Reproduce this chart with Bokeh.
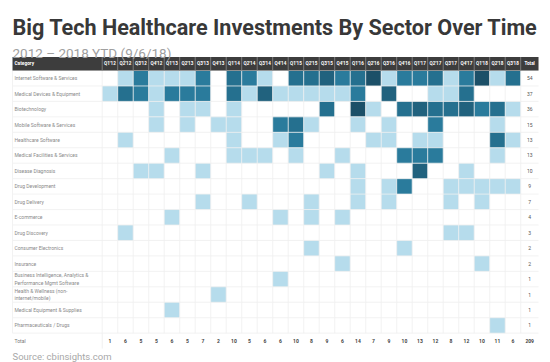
from bokeh.plotting import figure
from bokeh.models import ColumnDataSource, Range1d, Label
from bokeh.core.properties import value
from bokeh.embed import file_html
from bokeh.resources import INLINE

quarters = ["Q1'12", "Q2'12", "Q3'12", "Q4'12", "Q1'13", "Q2'13", "Q3'13", "Q4'13",
            "Q1'14", "Q2'14", "Q3'14", "Q4'14", "Q1'15", "Q2'15", "Q3'15", "Q4'15",
            "Q1'16", "Q2'16", "Q3'16", "Q4'16", "Q1'17", "Q2'17", "Q3'17", "Q4'17",
            "Q1'18", "Q2'18", "Q3'18"]

categories = ["Internet Software & Services", "Medical Devices & Equipment", "Biotechnology",
              "Mobile Software & Services", "Healthcare Software", "Medical Facilities & Services",
              "Disease Diagnosis", "Drug Development", "Drug Delivery", "E-commerce",
              "Drug Discovery", "Consumer Electronics", "Insurance",
              "Business Intelligence, Analytics &\nPerformance Mgmt Software",
              "Health & Wellness (non-\ninternet/mobile)", "Medical Equipment & Supplies",
              "Pharmaceuticals / Drugs"]

internet_software = [0, 1, 2, 1, 1, 1, 2, 0, 3, 2, 1, 0, 3, 3, 4, 2, 3, 5, 1, 2, 2, 3, 1, 2, 5, 1, 3]
medical_devices   = [1, 3, 2, 1, 2, 2, 2, 0, 3, 1, 4, 1, 1, 1, 1, 1, 2, 0, 4, 0, 0, 1, 1, 3, 0, 0, 0]
biotechnology     = [0, 0, 0, 1, 0, 1, 1, 0, 1, 0, 0, 0, 0, 0, 3, 0, 5, 1, 0, 3, 4, 3, 3, 4, 2, 3, 1]
mobile_software   = [0, 0, 0, 1, 0, 1, 0, 1, 1, 0, 0, 2, 3, 1, 0, 0, 1, 0, 1, 0, 0, 2, 0, 0, 0, 1, 0]
healthcare_sw     = [0, 1, 0, 0, 0, 0, 0, 0, 1, 0, 0, 1, 2, 0, 0, 0, 0, 1, 1, 0, 1, 1, 0, 0, 0, 3, 1]
medical_facility  = [0, 0, 0, 0, 1, 0, 0, 0, 1, 1, 1, 0, 1, 0, 0, 1, 0, 0, 0, 2, 2, 2, 0, 0, 0, 1, 0]
disease_diagnosis = [0, 0, 1, 1, 0, 0, 1, 0, 0, 0, 0, 0, 0, 0, 1, 0, 1, 0, 0, 0, 4, 0, 0, 1, 0, 0, 0]
drug_development  = [0, 0, 0, 0, 0, 0, 0, 0, 0, 0, 0, 0, 0, 0, 0, 0, 1, 0, 1, 2, 0, 0, 1, 1, 1, 1, 1]
drug_delivery     = [0, 0, 0, 0, 0, 0, 1, 0, 0, 1, 0, 0, 0, 1, 0, 0, 1, 0, 1, 0, 0, 0, 1, 0, 1, 0, 0]
e_commerce        = [0, 0, 0, 0, 1, 0, 0, 0, 0, 0, 0, 1, 0, 1, 0, 1, 0, 0, 0, 0, 0, 0, 0, 0, 0, 0, 0]
drug_discovery    = [0, 1, 0, 0, 0, 0, 0, 0, 0, 0, 0, 0, 0, 0, 0, 0, 0, 0, 0, 0, 0, 0, 1, 1, 0, 0, 0]
consumer_elec     = [0, 0, 0, 0, 0, 0, 0, 0, 0, 0, 0, 0, 0, 1, 0, 0, 0, 0, 0, 1, 0, 0, 0, 0, 0, 0, 0]
insurance         = [0, 0, 0, 0, 0, 0, 0, 0, 0, 0, 0, 0, 0, 0, 0, 1, 0, 0, 0, 0, 0, 0, 0, 0, 1, 0, 0]
business_intel    = [0, 0, 0, 0, 0, 0, 0, 0, 0, 0, 0, 1, 0, 0, 0, 0, 0, 0, 0, 0, 0, 0, 0, 0, 0, 0, 0]
health_wellness   = [0, 0, 0, 0, 0, 0, 0, 1, 0, 0, 0, 0, 0, 0, 0, 0, 0, 0, 0, 0, 0, 0, 0, 0, 0, 0, 0]
medical_supplies  = [0, 0, 0, 0, 1, 0, 0, 0, 0, 0, 0, 0, 0, 0, 0, 0, 0, 0, 0, 0, 0, 0, 0, 0, 0, 0, 0]
pharmaceuticals   = [0, 0, 0, 0, 0, 0, 0, 0, 0, 0, 0, 0, 0, 0, 0, 0, 0, 0, 0, 0, 0, 0, 0, 0, 0, 1, 0]

rows = [internet_software, medical_devices, biotechnology, mobile_software, healthcare_sw,
        medical_facility, disease_diagnosis, drug_development, drug_delivery, e_commerce,
        drug_discovery, consumer_elec, insurance, business_intel, health_wellness,
        medical_supplies, pharmaceuticals]

title_text = "Big Tech Healthcare Investments By Sector Over Time"
subtitle_text = "2012 \u2013 2018 YTD (9/6/18)"
source_text = "Source: cbinsights.com"

# colour by count
palette = {1: "#b6dcec", 2: "#2a7b9c", 3: "#25708f", 4: "#21627e", 5: "#1c5068"}

# ---------- layout (column units / row units) ----------
W, H = 550, 362
col_px, row_px = 15.5, 15.45
x0 = -6.561
y_top = -4.531
x_range = Range1d(x0, x0 + W / col_px)
y_range = Range1d(y_top + H / row_px, y_top)  # flipped: rows go downward

table_left = -5.787
nq = len(quarters)
total_x = nq + 0.58
table_right = 28.15
header_top = -0.874
label_x = -5.66

p = figure(width=W, height=H, x_range=x_range, y_range=y_range,
           output_backend="svg", toolbar_location=None,
           x_axis_location=None, y_axis_location=None, min_border=0)
p.grid.visible = False
p.outline_line_color = None
p.background_fill_color = "white"
p.border_fill_color = "white"

FONT = "Roboto"

# cells
cx, cy, cc = [], [], []
for j, r in enumerate(rows):
    for i, v in enumerate(r):
        if v > 0:
            cx.append(i + 0.5)
            cy.append(j + 0.5)
            cc.append(palette[min(v, 5)])
p.rect(x="x", y="y", width=1, height=1, fill_color="c", line_color=None,
       source=ColumnDataSource(dict(x=cx, y=cy, c=cc)))

nrows = len(rows)
# grid lines
p.segment(x0=[table_left] * (nrows + 1), x1=[table_right] * (nrows + 1),
          y0=list(range(nrows + 1)), y1=list(range(nrows + 1)),
          line_color="#efefef", line_width=1, line_alpha=0.8)
p.segment(x0=list(range(nq + 1)), x1=list(range(nq + 1)),
          y0=[0] * (nq + 1), y1=[nrows] * (nq + 1),
          line_color="#efefef", line_width=1, line_alpha=0.8)
p.segment(x0=[table_left], x1=[table_left], y0=[0], y1=[nrows],
          line_color="#f2f2f2", line_width=1)
p.segment(x0=[0], x1=[0], y0=[nrows], y1=[nrows + 1],
          line_color="#f0f0f0", line_width=1)

# header bar
p.quad(left=[table_left], right=[table_right], top=[header_top], bottom=[0],
       fill_color="#3d3d3d", line_color=None)
p.segment(x0=list(range(nq + 1)), x1=list(range(nq + 1)),
          y0=[header_top] * (nq + 1), y1=[0] * (nq + 1),
          line_color="#8c8c8c", line_width=0.8)
hy = header_top / 2
p.text(x=[i + 0.5 for i in range(nq)] + [total_x], y=[hy] * (nq + 1),
       text=quarters + ["Total"], text_font=value(FONT), text_font_size="4.6px",
       text_font_style="bold", text_color="white", text_align="center",
       text_baseline="middle")
p.text(x=[label_x], y=[hy], text=["Category"], text_font=value(FONT),
       text_font_size="4.8px", text_font_style="bold", text_color="white",
       text_align="left", text_baseline="middle")

# category labels
p.text(x=[label_x] * nrows, y=[j + 0.5 for j in range(nrows)], text=categories,
       text_font=value(FONT), text_font_size="5px", text_color="#8a8a8a",
       text_align="left", text_baseline="middle", text_line_height=1.3)

# row totals
row_totals = [sum(r) for r in rows]
p.text(x=[total_x] * nrows, y=[j + 0.5 for j in range(nrows)],
       text=[str(t) for t in row_totals], text_font=value(FONT), text_font_size="5px",
       text_color="#555555", text_align="center", text_baseline="middle")

# column totals
col_totals = [sum(r[i] for r in rows) for i in range(nq)]
p.text(x=[i + 0.5 for i in range(nq)] + [total_x], y=[nrows + 0.5] * (nq + 1),
       text=[str(t) for t in col_totals] + [str(sum(col_totals))],
       text_font=value(FONT), text_font_size="5px", text_font_style="bold",
       text_color="#444444", text_align="center", text_baseline="middle")
p.text(x=[label_x], y=[nrows + 0.5], text=["Total"], text_font=value(FONT),
       text_font_size="5px", text_color="#777777", text_align="left",
       text_baseline="middle")

# titles
p.add_layout(Label(x=table_left, y=-2.764, text=title_text, text_font=FONT,
                   text_font_size="21.6px", text_font_style="bold", text_color="#383838",
                   text_baseline="alphabetic"))
p.add_layout(Label(x=table_left, y=-1.146, text=subtitle_text, text_font=FONT,
                   text_font_size="13.5px", text_color="#a0a0a0",
                   text_baseline="alphabetic"))
p.add_layout(Label(x=table_left, y=18.51, text=source_text, text_font=FONT,
                   text_font_size="9.5px", text_color="#a8a8a8",
                   text_baseline="alphabetic"))

open("out.html", "w").write(file_html(p, INLINE))
